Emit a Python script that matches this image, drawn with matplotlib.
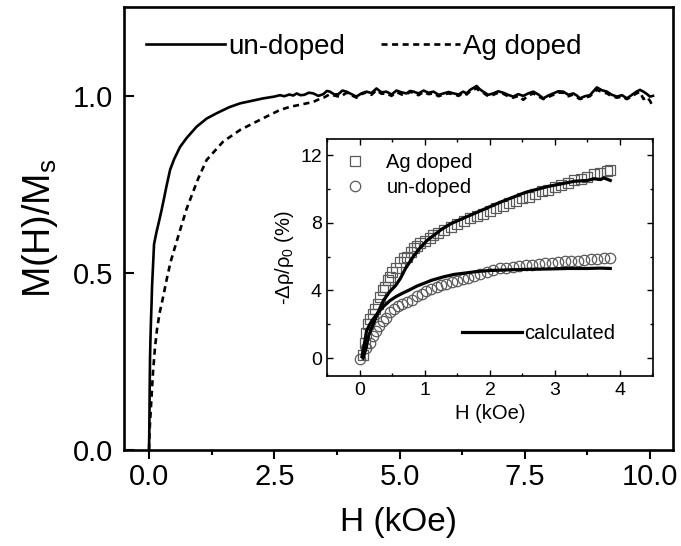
import matplotlib
matplotlib.use("Agg")
import matplotlib.pyplot as plt
from matplotlib.ticker import MultipleLocator
from matplotlib.lines import Line2D

plt.rcParams['font.family'] = ['Liberation Sans', 'DejaVu Sans']
plt.rcParams['mathtext.fontset'] = 'custom'
plt.rcParams['mathtext.rm'] = 'Liberation Sans'
plt.rcParams['mathtext.it'] = 'Liberation Sans'
plt.rcParams['mathtext.default'] = 'regular'

# ---------------- main panel data: M(H)/Ms ----------------
h_undoped = [0, 0.005, 0.01, 0.015, 0.02, 0.03, 0.04, 0.05, 0.06, 0.08, 0.10, 0.15, 0.20, 0.25,
             0.30, 0.35, 0.42, 0.50, 0.62, 0.75, 0.95, 1.15, 1.35, 1.60, 1.82, 2.05, 2.28, 2.50,
             2.615, 2.70, 2.80, 2.88, 2.947, 3.02, 3.10, 3.19, 3.28, 3.38, 3.48, 3.55, 3.61, 3.70,
             3.78, 3.86, 3.94, 4.04, 4.14, 4.24, 4.34, 4.44, 4.54, 4.64, 4.74, 4.84, 4.94, 5.04,
             5.14, 5.21, 5.28, 5.38, 5.48, 5.58, 5.68, 5.78, 5.88, 5.98, 6.08, 6.18, 6.27, 6.34,
             6.41, 6.48, 6.54, 6.60, 6.67, 6.77, 6.87, 6.97, 7.07, 7.17, 7.27, 7.37, 7.47, 7.57,
             7.67, 7.77, 7.87, 7.97, 8.07, 8.17, 8.27, 8.37, 8.47, 8.54, 8.60, 8.70, 8.80, 8.87,
             8.94, 9.04, 9.14, 9.24, 9.34, 9.44, 9.54, 9.64, 9.73, 9.80, 9.87, 9.94, 10.0, 10.06]
m_undoped = [0, 0.05, 0.12, 0.20, 0.26, 0.32, 0.37, 0.41, 0.46, 0.52, 0.58, 0.615, 0.645, 0.676,
             0.71, 0.745, 0.79, 0.82, 0.855, 0.88, 0.912, 0.935, 0.95, 0.967, 0.978, 0.985, 0.992, 0.997,
             1.001, 0.998, 1.003, 1.000, 1.006, 1.001, 1.002, 1.008, 1.006, 0.999, 1.004, 1.013, 1.011, 1.003,
             1.004, 1.014, 1.011, 1.004, 0.997, 1.006, 1.011, 1.007, 1.020, 1.009, 1.011, 1.003, 1.014, 1.009,
             1.006, 1.013, 1.011, 1.006, 1.014, 1.008, 1.011, 1.002, 1.006, 1.010, 1.006, 1.003, 1.011, 1.006,
             1.016, 1.022, 1.027, 1.018, 1.011, 1.002, 1.006, 1.012, 1.008, 1.002, 0.997, 1.004, 0.999, 1.006,
             1.011, 1.003, 0.992, 1.000, 1.006, 1.012, 1.011, 1.002, 1.006, 1.000, 0.992, 0.998, 1.001, 1.012,
             1.023, 1.015, 1.011, 1.002, 0.997, 1.001, 0.992, 1.002, 1.011, 1.016, 1.011, 1.004, 0.997, 0.999]

h_ag = [0, 0.01, 0.03, 0.05, 0.08, 0.12, 0.16, 0.21, 0.28, 0.35, 0.43, 0.52, 0.62, 0.75, 0.98,
        1.15, 1.48, 1.82, 2.28, 2.61, 2.81, 3.05, 3.28, 3.40, 3.50, 3.60, 3.70, 3.82, 3.94, 4.04,
        4.14, 4.24, 4.34, 4.44, 4.54, 4.64, 4.74, 4.84, 4.94, 5.04, 5.14, 5.21, 5.28, 5.38, 5.48,
        5.58, 5.68, 5.78, 5.88, 5.98, 6.08, 6.18, 6.27, 6.34, 6.41, 6.48, 6.54, 6.60, 6.67, 6.77,
        6.87, 6.97, 7.07, 7.17, 7.27, 7.37, 7.47, 7.57, 7.67, 7.77, 7.87, 7.97, 8.07, 8.17, 8.27,
        8.37, 8.47, 8.54, 8.60, 8.70, 8.80, 8.87, 8.94, 9.04, 9.14, 9.24, 9.34, 9.44, 9.54, 9.64,
        9.73, 9.80, 9.87, 9.94, 10.0, 10.06]
m_ag = [0, 0.05, 0.10, 0.149, 0.22, 0.29, 0.34, 0.385, 0.43, 0.479, 0.53, 0.573, 0.62, 0.68, 0.765,
        0.818, 0.87, 0.903, 0.936, 0.959, 0.968, 0.975, 0.982, 0.990, 0.995, 1.003, 1.000, 0.996, 1.008, 1.001,
        0.994, 1.004, 1.009, 1.002, 1.015, 1.005, 1.006, 0.999, 1.010, 1.003, 1.004, 1.010, 1.008, 1.001, 1.010,
        1.004, 1.006, 0.998, 1.003, 1.006, 1.004, 0.999, 1.008, 1.003, 1.012, 1.017, 1.020, 1.012, 1.008, 0.998,
        1.002, 1.008, 1.005, 0.998, 0.994, 0.999, 0.988, 1.000, 1.006, 0.998, 0.990, 0.996, 1.002, 1.008, 1.008,
        0.998, 1.003, 0.995, 0.990, 0.994, 0.998, 1.008, 1.016, 1.010, 1.006, 0.998, 0.994, 0.997, 0.990, 0.998,
        1.006, 1.010, 0.990, 0.996, 0.985, 0.968]

# ---------------- inset data: -Δρ/ρ0 (%) ----------------
h_sq = [0.05, 0.08, 0.10, 0.13, 0.15, 0.20, 0.23, 0.27, 0.31, 0.35, 0.38, 0.43, 0.46, 0.50, 0.56,
        0.62, 0.67, 0.72, 0.78, 0.83, 0.87, 0.93, 1.00, 1.07, 1.13, 1.20, 1.30, 1.40, 1.50, 1.60,
        1.70, 1.80, 1.90, 2.00, 2.10, 2.20, 2.30, 2.40, 2.50, 2.60, 2.70, 2.80, 2.90, 3.00, 3.10,
        3.20, 3.30, 3.40, 3.50, 3.60, 3.70, 3.80, 3.85]
v_sq = [0.2, 0.9, 1.5, 2.0, 2.3, 2.6, 2.9, 3.2, 3.6, 4.0, 4.2, 4.6, 4.8, 5.1, 5.3,
        5.7, 5.9, 6.0, 6.3, 6.5, 6.6, 6.8, 6.95, 7.1, 7.25, 7.4, 7.55, 7.75, 7.9, 8.1,
        8.3, 8.4, 8.5, 8.7, 8.85, 9.0, 9.15, 9.3, 9.45, 9.55, 9.7, 9.85, 9.95, 10.1, 10.25,
        10.35, 10.5, 10.6, 10.7, 10.85, 10.95, 11.05, 11.1]

h_ci = [0.0, 0.10, 0.15, 0.20, 0.25, 0.30, 0.35, 0.40, 0.46, 0.52, 0.58, 0.65, 0.72, 0.80, 0.88,
        0.95, 1.02, 1.10, 1.18, 1.25, 1.33, 1.42, 1.50, 1.58, 1.66, 1.75, 1.85, 1.95, 2.05, 2.15,
        2.25, 2.35, 2.45, 2.55, 2.65, 2.75, 2.85, 2.95, 3.05, 3.15, 3.25, 3.35, 3.45, 3.55, 3.65,
        3.75, 3.85]
v_ci = [-0.05, 0.6, 0.9, 1.3, 1.6, 1.9, 2.2, 2.4, 2.7, 2.9, 3.1, 3.2, 3.3, 3.45, 3.65,
        3.8, 3.95, 4.1, 4.2, 4.3, 4.4, 4.5, 4.55, 4.65, 4.75, 4.85, 5.0, 5.1, 5.2, 5.3,
        5.35, 5.4, 5.45, 5.5, 5.5, 5.55, 5.6, 5.65, 5.7, 5.72, 5.75, 5.77, 5.8, 5.85, 5.88,
        5.9, 5.92]

h_calc_ag = [0.05, 0.10, 0.13, 0.20, 0.30, 0.36, 0.45, 0.55, 0.62, 0.70, 0.82, 0.92, 1.03, 1.15,
             1.25, 1.40, 1.55, 1.70, 1.85, 2.00, 2.15, 2.35, 2.55, 2.75, 2.90, 3.10, 3.30, 3.50,
             3.60, 3.70, 3.75, 3.85]
v_calc_ag = [0.0, 0.7, 1.3, 2.0, 2.9, 3.4, 3.9, 4.3, 4.7, 5.3, 6.0, 6.5, 6.95, 7.3,
             7.6, 7.95, 8.2, 8.45, 8.7, 8.95, 9.2, 9.5, 9.8, 10.0, 10.15, 10.3, 10.45, 10.5,
             10.6, 10.55, 10.65, 10.5]

h_calc_un = [0.03, 0.07, 0.10, 0.15, 0.20, 0.28, 0.36, 0.46, 0.56, 0.66, 0.77, 0.87, 0.97, 1.10,
             1.28, 1.45, 1.60, 1.80, 2.00, 2.30, 2.60, 2.90, 3.20, 3.50, 3.70, 3.85]
v_calc_un = [0.1, 0.9, 1.6, 2.0, 2.3, 2.7, 3.05, 3.4, 3.65, 3.85, 4.05, 4.25, 4.4, 4.6,
             4.8, 4.95, 5.02, 5.12, 5.18, 5.22, 5.25, 5.27, 5.3, 5.3, 5.32, 5.3]

main_xticks = [0.0, 2.5, 5.0, 7.5, 10.0]
main_yticks = [0.0, 0.5, 1.0]
inset_xticks = [0, 1, 2, 3, 4]
inset_yticks = [0, 4, 8, 12]

# ---------------- figure ----------------
fig = plt.figure(figsize=(6.81, 5.46), dpi=100)
ax = fig.add_axes([0.1814, 0.1767, 0.8069, 0.8104])

ax.plot(h_undoped, m_undoped, color='black', lw=1.9, label='un-doped')
ax.plot(h_ag, m_ag, color='black', lw=1.9, dashes=(2.3, 1.7), label='Ag doped')

ax.set_xlim(-0.509, 10.46)
ax.set_ylim(0, 1.25)
ax.set_xticks(main_xticks)
ax.set_xticklabels(['%.1f' % t for t in main_xticks])
ax.set_yticks(main_yticks)
ax.set_yticklabels(['%.1f' % t for t in main_yticks])
ax.xaxis.set_minor_locator(MultipleLocator(1.25))
ax.tick_params(axis='x', which='major', direction='out', length=6.5, width=1.5, labelsize=21, pad=3)
ax.tick_params(axis='x', which='minor', direction='out', length=3.6, width=1.5)
ax.tick_params(axis='y', which='major', direction='in', length=7, width=1.5, labelsize=21, pad=7.5)
for s in ax.spines.values():
    s.set_linewidth(1.9)
ax.set_xlabel('H (kOe)', fontsize=24, labelpad=12)
ax.set_ylabel('M(H)/M$_{s}$', fontsize=27, labelpad=9)

leg = ax.legend(loc='center left', bbox_to_anchor=(0.041, 0.9096), ncol=2, frameon=False,
                fontsize=20, handlelength=2.84, handletextpad=0.12, columnspacing=1.3,
                borderpad=0, borderaxespad=0)

# ---------------- inset ----------------
ins = fig.add_axes([0.4809, 0.3114, 0.478, 0.4332])
ins.plot(h_sq, v_sq, ls='none', marker='s', ms=6.5, mfc='none', mec='#5a5a5a', mew=0.9,
         label='Ag doped')
ins.plot(h_ci, v_ci, ls='none', marker='o', ms=7.5, mfc='none', mec='#5a5a5a', mew=0.9,
         label='un-doped')
ins.plot(h_calc_ag, v_calc_ag, color='black', lw=2.3)
ins.plot(h_calc_un, v_calc_un, color='black', lw=2.3)

ins.set_xlim(-0.5, 4.508)
ins.set_ylim(-1.05, 12.92)
ins.set_xticks(inset_xticks)
ins.set_yticks(inset_yticks)
ins.xaxis.set_minor_locator(MultipleLocator(0.5))
ins.yaxis.set_minor_locator(MultipleLocator(2))
ins.tick_params(which='major', direction='in', length=4, width=1.0, labelsize=14,
                top=True, right=True, pad=4)
ins.tick_params(which='minor', direction='in', length=2.2, width=1.0, top=True, right=True)
for s in ins.spines.values():
    s.set_linewidth(1.2)
ins.set_xlabel('H (kOe)', fontsize=14.5, labelpad=4)
ins.set_ylabel('-\u0394\u03c1/\u03c1$_{0}$ (%)', fontsize=14.5, labelpad=3)

leg1 = ins.legend(loc='center left', bbox_to_anchor=(0.0568, 0.851), frameon=False, fontsize=14.5,
                  handlelength=0.9, handletextpad=1.1, labelspacing=0.3, borderpad=0,
                  borderaxespad=0)
ins.add_artist(leg1)
calc_handle = Line2D([], [], color='black', lw=2.3)
ins.legend([calc_handle], ['calculated'], loc='center left', bbox_to_anchor=(0.412, 0.178),
           frameon=False, fontsize=14.5, handlelength=3.0, handletextpad=0.1, borderpad=0,
           borderaxespad=0)

fig.savefig('out.png', dpi=100)
